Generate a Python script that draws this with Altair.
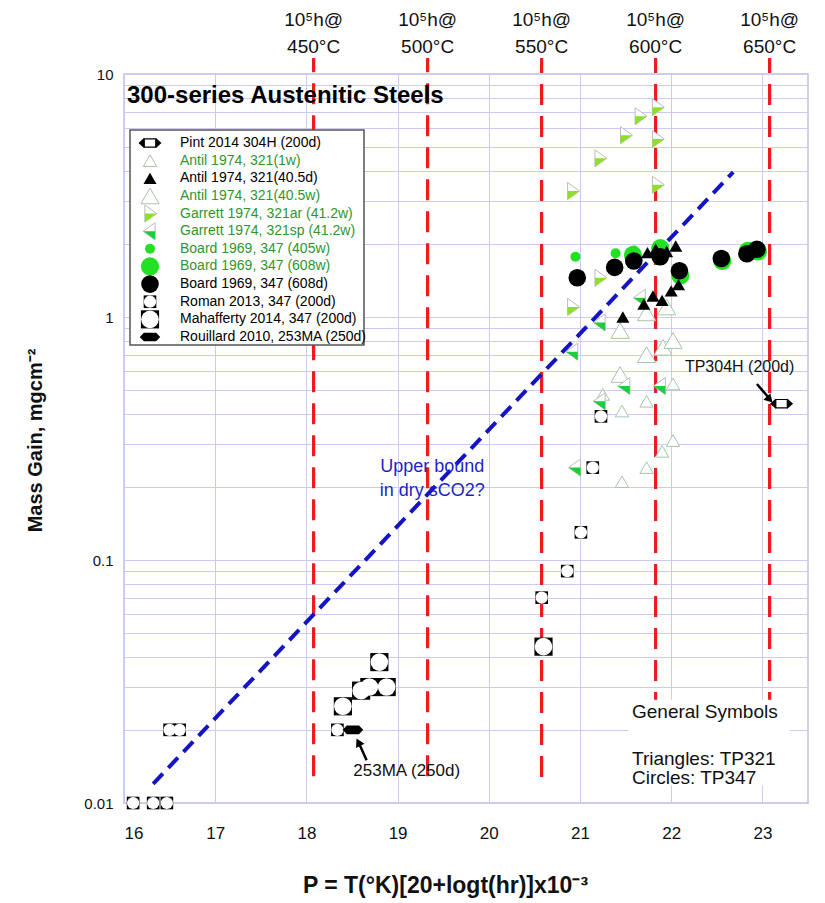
import altair as alt
import pandas as pd

# ------------------------------------------------------------------ data
temps_c = [450, 500, 550, 600, 650]            # 10^5 h Larson-Miller guide lines
guide_log_hours = 5
guide_bottom_mg = [0.0129, 0.0129, 0.0128, 0.0128, 0.0128]

x_ticks = [16, 17, 18, 19, 20, 21, 22, 23]
y_decades = [0.01, 0.1, 1, 10]
y_decade_labels = ["0.01", "0.1", "1", "10"]
y_mantissas = [1, 2, 3, 4, 5, 6, 7, 8, 9]

pint_P = [23.21]
pint_mg = [0.44]
antil_1w_P = [21.25, 21.46, 21.46, 21.73, 21.73, 21.90, 22.02, 22.02]
antil_1w_mg = [0.48, 0.41, 0.21, 0.45, 0.24, 0.28, 0.31, 0.53]
antil_405d_P = [21.47, 21.70, 21.80, 21.90, 22.00, 22.08, 21.74, 21.83, 21.95, 22.05]
antil_405d_mg = [1.00, 1.13, 1.22, 1.17, 1.28, 1.36, 1.84, 1.90, 1.86, 1.96]
antil_405w_P = [21.44, 21.44, 21.73, 21.91, 22.02, 21.73, 21.95]
antil_405w_mg = [0.88, 0.58, 0.70, 0.75, 0.80, 1.04, 1.10]
garrett_ar_P = [20.92, 21.22, 21.50, 21.66, 21.85, 21.85, 21.85, 21.22, 20.92]
garrett_ar_mg = [3.3, 4.5, 5.6, 6.7, 7.3, 5.4, 3.5, 1.45, 1.1]
garrett_sp_P = [20.92, 21.22, 21.22, 21.49, 21.88, 20.95, 21.66]
garrett_sp_mg = [0.72, 0.95, 0.45, 0.52, 0.52, 0.24, 1.2]
board_405w_P = [20.95, 21.39, 21.59]
board_405w_mg = [1.77, 1.83, 1.88]
board_608w_P = [21.58, 21.88, 22.10, 22.56, 22.84, 22.95]
board_608w_mg = [1.80, 1.92, 1.48, 1.70, 1.87, 1.86]
board_608d_P = [20.97, 21.38, 21.59, 21.88, 22.09, 22.55, 22.83, 22.94]
board_608d_mg = [1.45, 1.60, 1.70, 1.77, 1.55, 1.74, 1.82, 1.90]
roman_P = [16.10, 16.32, 16.47, 16.50, 16.61, 18.34, 20.58, 20.86, 21.01, 21.14, 21.23]
roman_mg = [0.01, 0.01, 0.01, 0.02, 0.02, 0.02, 0.07, 0.09, 0.13, 0.24, 0.39]
mahafferty_P = [18.40, 18.60, 18.69, 18.88, 18.80, 20.60]
mahafferty_mg = [0.025, 0.029, 0.030, 0.030, 0.038, 0.044]
rouillard_P = [18.51]
rouillard_mg = [0.020]
bound_P = [16.32, 22.68]
bound_mg = [0.012, 3.95]

legend_labels = [
    "Pint 2014 304H (200d)", "Antil 1974, 321(1w)", "Antil 1974, 321(40.5d)",
    "Antil 1974, 321(40.5w)", "Garrett 1974, 321ar (41.2w)", "Garrett 1974, 321sp (41.2w)",
    "Board 1969, 347 (405w)", "Board 1969, 347 (608w)", "Board 1969, 347 (608d)",
    "Roman 2013, 347 (200d)", "Mahafferty 2014, 347 (200d)", "Rouillard 2010, 253MA (250d)",
]
legend_kinds = ["pint", "antil1w", "antil405d", "antil405w", "garrett_ar", "garrett_sp",
                "board405w", "board608w", "board608d", "roman", "mahafferty", "rouillard"]
GREEN_TXT = "#2f962f"
legend_colors = ["black", GREEN_TXT, "black", GREEN_TXT, GREEN_TXT, GREEN_TXT,
                 GREEN_TXT, GREEN_TXT, "black", "black", "black", "black"]

# ------------------------------------------------------------------ styles
FONT = "Liberation Sans"

PINT_TRI = "M-1,0L-0.5,-0.45L-0.5,0.45Z M1,0L0.5,-0.45L0.5,0.45Z"
PINT_RECT = "M-0.5,-0.36H0.5V0.36H-0.5Z"
HEX = "M-1,0L-0.6,-0.42L0.6,-0.42L1,0L0.6,0.42L-0.6,0.42Z"
GAR_AR_OUT = "M-0.6,-1L0.8,0L-0.6,1Z"
GAR_AR_HALF = "M-0.6,0L0.8,0L-0.6,1Z"
GAR_SP_OUT = "M0.6,-1L-0.8,0L0.6,1Z"
GAR_SP_HALF = "M0.6,0L-0.8,0L0.6,1Z"

SYMBOLS = {
    "pint": [(PINT_RECT, 529, "white", "black", 1.2), (PINT_TRI, 529, "black", None, 0)],
    "antil1w": [("triangle-up", 180, "white", "#a6c6a6", 1)],
    "antil405d": [("triangle-up", 170, "black", None, 0)],
    "antil405w": [("triangle-up", 330, "white", "#a6c6a6", 1)],
    "garrett_ar": [(GAR_AR_OUT, 290, "white", "#bbbbbb", 1), (GAR_AR_HALF, 290, "#8edf2a", None, 0)],
    "garrett_sp": [(GAR_SP_OUT, 290, "white", "#bbbbbb", 1), (GAR_SP_HALF, 290, "#1fcc3a", None, 0)],
    "board405w": [("circle", 100, "#22e022", None, 0)],
    "board608w": [("circle", 330, "#22e022", None, 0)],
    "board608d": [("circle", 310, "black", None, 0)],
    "roman": [("square", 160, "black", None, 0), ("circle", 150, "white", None, 0)],
    "mahafferty": [("square", 330, "black", None, 0), ("circle", 310, "white", None, 0)],
    "rouillard": [(HEX, 420, "black", None, 0)],
}


def lm(tc):
    return round((tc + 273.15) * (20 + guide_log_hours) / 1000, 3)


y_grid = sorted({round(m * d, 4) for d in y_decades[:-1] for m in y_mantissas} | {y_decades[-1]})
label_expr = "".join(f"datum.value == {v} ? '{s}' : " for v, s in zip(y_decades, y_decade_labels)) + "''"

xs = alt.Scale(domain=[16, 23.5], nice=False, zero=False)
ys = alt.Scale(type="log", domain=[0.01, 10], nice=False)
X_TITLE = "P = T(°K)[20+logt(hr)]x10⁻³"
Y_TITLE = "Mass Gain, mgcm⁻²"
xaxis = alt.Axis(values=x_ticks, grid=True, ticks=False, domain=False, labelFontSize=17,
                 labelPadding=22, labelFont=FONT, titleFontSize=23, titleFontWeight="bold",
                 titleFont=FONT, titleX=321, titleY=82, titleBaseline="middle")
yaxis = alt.Axis(values=y_grid, labelExpr=label_expr, grid=True, ticks=False, domain=False,
                 labelFontSize=15, labelPadding=11, labelOverlap=False, labelFont=FONT,
                 titleX=-89, titleY=366, titleAngle=270, titleAlign="center",
                 titleBaseline="middle", titleFontSize=20, titleFontWeight="bold", titleFont=FONT)


def X():
    return alt.X("P:Q", scale=xs, axis=xaxis, title=X_TITLE)


def Y():
    return alt.Y("mg:Q", scale=ys, axis=yaxis, title=Y_TITLE)


def sdf(P, mg):
    return pd.DataFrame({"P": P, "mg": mg})


def point_layers(df, kind, x_enc, y_enc):
    out = []
    for shape, size, fill, stroke, sw in SYMBOLS[kind]:
        mk = dict(shape=shape, size=size, filled=True, fill=fill, opacity=1, fillOpacity=1)
        if stroke:
            mk.update(stroke=stroke, strokeWidth=sw)
        else:
            mk.update(strokeWidth=0)
        out.append(alt.Chart(df).mark_point(**mk).encode(x=x_enc, y=y_enc))
    return out


# ------------------------------------------------------------------ main layers
guides = pd.DataFrame({"P": [lm(t) for t in temps_c], "mg": guide_bottom_mg,
                       "top1": ["10⁵h@"] * len(temps_c), "top2": [f"{t}°C" for t in temps_c]})

main_layers = []
main_layers.append(alt.Chart(guides).mark_rule(color="#ee1c1c", strokeWidth=3.2, strokeDash=[21, 11])
                   .encode(x=X(), y=Y(), y2=alt.value(-16)))
main_layers.append(alt.Chart(guides).mark_text(font=FONT, fontSize=19, baseline="middle", color="#111")
                   .encode(x=X(), y=alt.value(-54), text="top1:N"))
main_layers.append(alt.Chart(guides).mark_text(font=FONT, fontSize=19, baseline="middle", color="#111")
                   .encode(x=X(), y=alt.value(-27), text="top2:N"))

main_layers.append(alt.Chart(sdf(bound_P, bound_mg)).mark_line(color="#1414c4", strokeWidth=4, strokeDash=[14, 8])
                   .encode(x=X(), y=Y()))

series = [
    ("antil405w", antil_405w_P, antil_405w_mg),
    ("antil1w", antil_1w_P, antil_1w_mg),
    ("garrett_ar", garrett_ar_P, garrett_ar_mg),
    ("garrett_sp", garrett_sp_P, garrett_sp_mg),
    ("board608w", board_608w_P, board_608w_mg),
    ("board405w", board_405w_P, board_405w_mg),
    ("board608d", board_608d_P, board_608d_mg),
    ("antil405d", antil_405d_P, antil_405d_mg),
    ("roman", roman_P, roman_mg),
    ("mahafferty", mahafferty_P, mahafferty_mg),
    ("rouillard", rouillard_P, rouillard_mg),
    ("pint", pint_P, pint_mg),
]
for kind, P, mg in series:
    main_layers += point_layers(sdf(P, mg), kind, X(), Y())

# annotations
ub = pd.DataFrame({"P": [19.38, 19.38], "mg": [0.241, 0.193], "t": ["Upper bound", "in dry sCO2?"]})
main_layers.append(alt.Chart(ub).mark_text(font=FONT, fontSize=18, color="#1f1fc8", baseline="middle")
                   .encode(x=X(), y=Y(), text="t:N"))

notes = pd.DataFrame({"P": [22.75, 19.10], "mg": [0.623, 0.01355], "t": ["TP304H (200d)", "253MA (250d)"],
                      "fs": [16, 17]})
main_layers.append(alt.Chart(notes).mark_text(font=FONT, color="#111", baseline="middle")
                   .encode(x=X(), y=Y(), text="t:N", size=alt.Size("fs:Q", scale=None)))

arrows = pd.DataFrame({"P": [22.94, 18.66], "mg": [0.53, 0.0150], "P2": [23.07, 18.58], "mg2": [0.465, 0.0175]})
main_layers.append(alt.Chart(arrows).mark_rule(color="black", strokeWidth=2.5)
                   .encode(x=X(), y=Y(), x2="P2:Q", y2="mg2:Q"))
heads = pd.DataFrame({"P": [23.08, 18.57], "mg": [0.458, 0.0178], "ang": [137, 333]})
main_layers.append(alt.Chart(heads).mark_point(shape="triangle-up", size=90, filled=True, fill="black", opacity=1, strokeWidth=0)
                   .encode(x=X(), y=Y(), angle=alt.Angle("ang:Q", scale=None)))

gs_box = pd.DataFrame({"P": [21.53], "P2": [23.30], "mg": [0.0118], "mg2": [0.0266]})
main_layers.append(alt.Chart(gs_box).mark_rect(fill="white")
                   .encode(x=X(), x2="P2:Q", y=Y(), y2="mg2:Q"))
gs_text = pd.DataFrame({"P": [21.57, 21.57, 21.57], "mg": [0.0236, 0.0152, 0.0127],
                        "t": ["General Symbols", "Triangles: TP321", "Circles: TP347"]})
main_layers.append(alt.Chart(gs_text).mark_text(font=FONT, fontSize=19, color="#111", align="left", baseline="middle")
                   .encode(x=X(), y=Y(), text="t:N"))

main = alt.layer(*main_layers)

# ------------------------------------------------------------------ legend / title
legend_rows = pd.DataFrame({"row": list(range(len(legend_labels))), "label": legend_labels,
                            "tcolor": legend_colors, "kind": legend_kinds})
ly = alt.Y("row:Q", scale=alt.Scale(domain=[0, len(legend_labels) - 1], range=[69, 263], nice=False, zero=False),
           axis=None)
one = pd.DataFrame({"a": [0]})
legend_layers = [
    alt.Chart(one).mark_text(text="300-series Austenitic Steels", align="left", baseline="middle",
                             font=FONT, fontSize=24, fontWeight="bold", color="black")
    .encode(x=alt.value(3), y=alt.value(22)),
    alt.Chart(one).mark_rect(fill="white", stroke="#555555", strokeWidth=1.5)
    .encode(x=alt.value(6), x2=alt.value(240), y=alt.value(56), y2=alt.value(271)),
]
for k in legend_kinds:
    legend_layers += point_layers(legend_rows[legend_rows.kind == k], k, alt.value(26), ly)
legend_layers.append(alt.Chart(legend_rows).mark_text(align="left", baseline="middle", font=FONT, fontSize=14)
                     .encode(x=alt.value(56), y=ly, text="label:N", color=alt.Color("tcolor:N", scale=None)))
legend = alt.layer(*legend_layers)

chart = (
    alt.layer(main, legend)
    .resolve_scale(x="independent", y="independent")
    .properties(width=684, height=729,
                padding={"left": 124, "top": 74, "right": 17, "bottom": 100},
                autosize=alt.AutoSizeParams(type="none"))
    .configure_axis(gridColor="#cacaf4", gridWidth=1, labelColor="#111", titleColor="#111")
    .configure_view(stroke="#c0c0de", strokeWidth=1.5)
)

chart.save("out.html", embed_options={"renderer": "svg", "actions": False})
